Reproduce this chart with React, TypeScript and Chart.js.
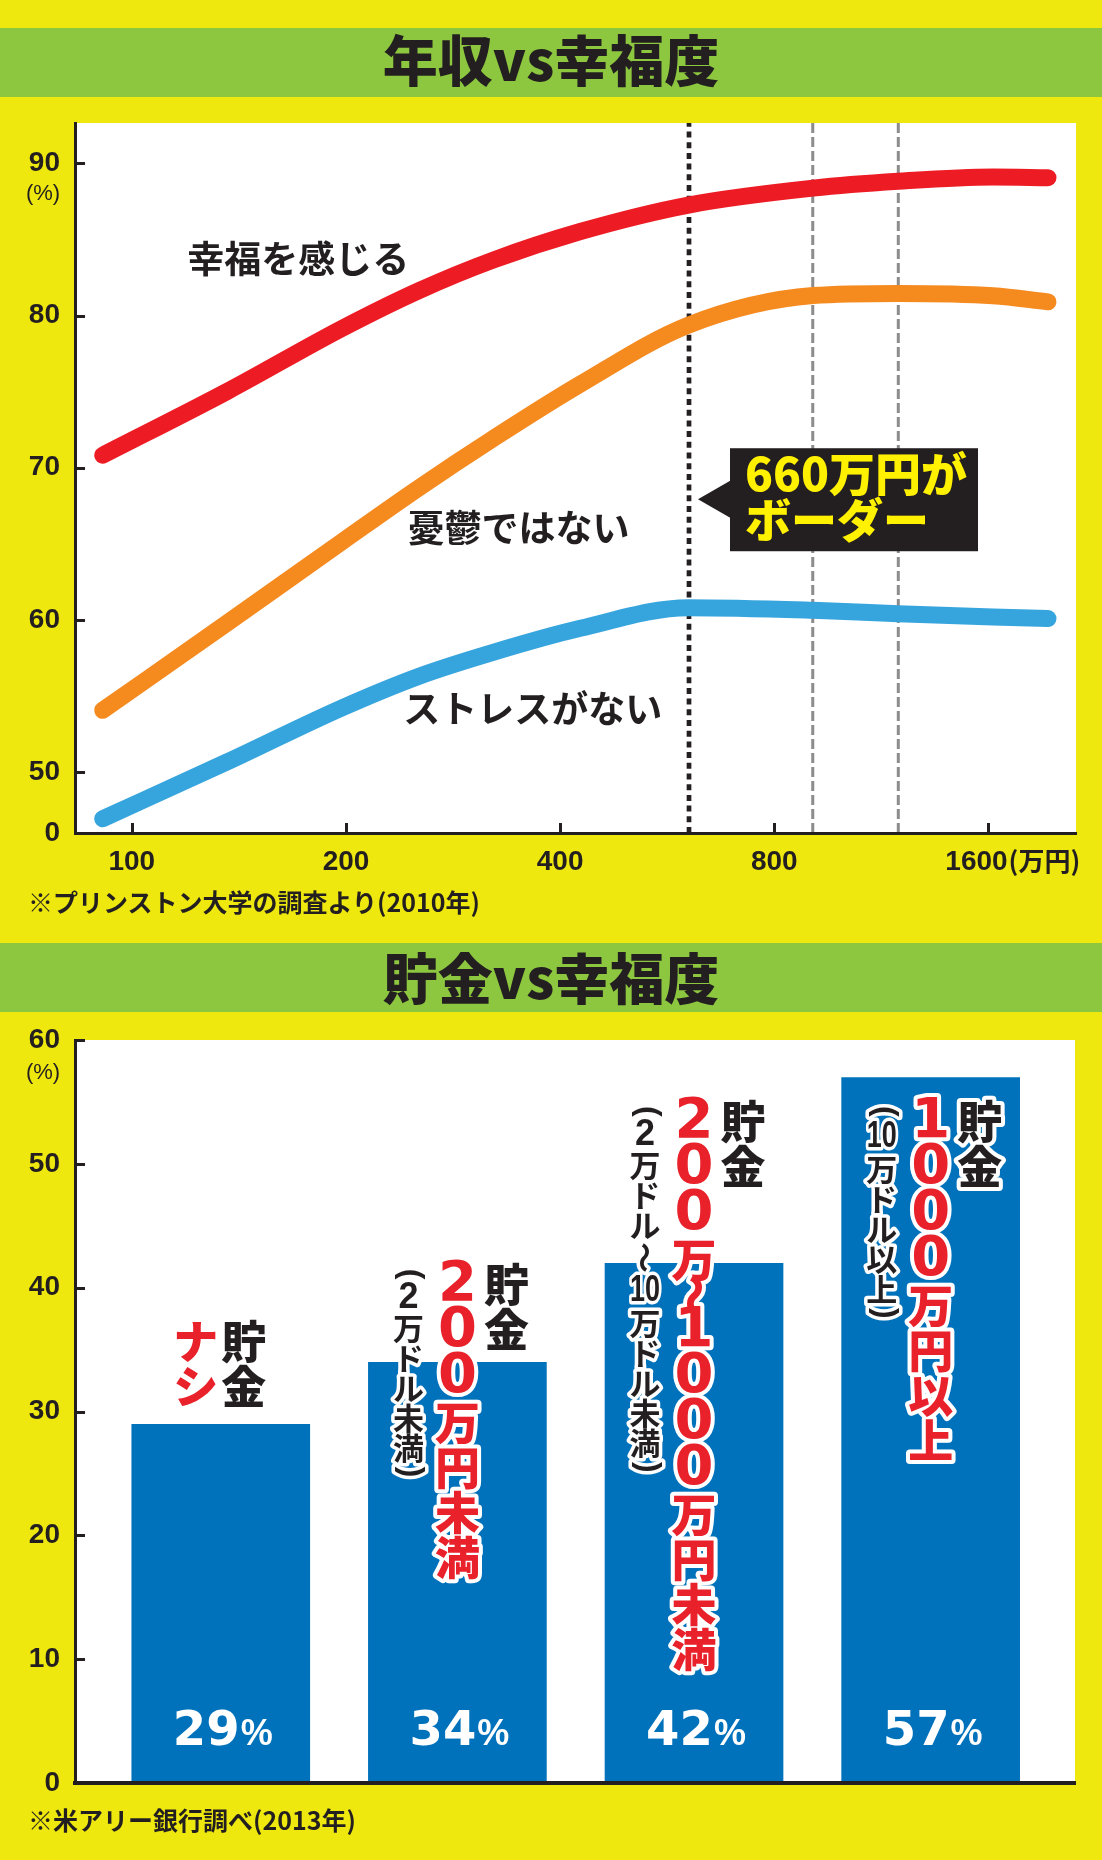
import React, { useEffect, useRef } from 'react';
import { Chart, registerables } from 'chart.js';

Chart.register(...registerables);

// ---------- colours & fonts ----------
const BG_YELLOW = '#EEE80F';
const BAND_GREEN = '#8DC63F';
const INK = '#231F20';
const RED = '#ED1C24';
const ORANGE = '#F58A1F';
const BLUE = '#37A5DD';
const BAR_BLUE = '#0071BB';
const LABEL_RED = '#E9212B';
const CALLOUT_YELLOW = '#FFF100';
const CJK = "'Noto Sans CJK JP', 'Noto Sans CJK SC', sans-serif";
const LATIN = "'Liberation Sans', Arial, sans-serif";
const WIDE = "'DejaVu Sans', 'Liberation Sans', sans-serif";

// ---------- chart 1 : income vs happiness ----------
const title1 = '年収vs幸福度';
const note1 = '※プリンストン大学の調査より(2010年)';
const incomeTicks = [100, 200, 400, 800, 1600];
const incomeTickLabels = ['100', '200', '400', '800', '1600'];
const incomeUnit = '(万円)';
const incomes = [91, 136, 198, 254, 322, 427, 606, 907, 1195, 1624, 1940];
const feelHappy = [70.82, 75.0, 79.18, 81.66, 83.64, 85.52, 87.26, 88.37, 88.82, 89.1, 89.06];
const notDepressed = [54.06, 59.78, 65.18, 68.72, 71.91, 75.49, 79.37, 81.31, 81.45, 81.3, 80.9];
const noStress = [46.94, 50.66, 54.25, 56.32, 57.87, 59.45, 60.8, 60.63, 60.41, 60.2, 60.09];
const seriesNames = ['幸福を感じる', '憂鬱ではない', 'ストレスがない'];
const pctTicks1 = [46, 50, 60, 70, 80, 90];
const pctTickLabels1 = ['0', '50', '60', '70', '80', '90'];
const borderIncome = 607;
const guideIncomes = [906, 1195];
const calloutLines = ['660万円が', 'ボーダー'];
const pctUnit = '(%)';

// ---------- chart 2 : savings vs happiness ----------
const title2 = '貯金vs幸福度';
const note2 = '※米アリー銀行調べ(2013年)';
const savingsGroups = ['貯金ナシ', '貯金200万円未満', '貯金200万〜1000万円未満', '貯金1000万円以上'];
const happyShare = [29, 34, 42, 57];
const pctTicks2 = [0, 10, 20, 30, 40, 50, 60];
const groupPrefix = '貯金';
const groupMain = ['ナシ', '200万円未満', '200万〜1000万円未満', '1000万円以上'];
const groupSub = ['', '(2万ドル未満)', '(2万ドル〜10万ドル未満)', '(10万ドル以上)'];

// ---------- vertical text helper ----------
type VTok = { t: string; kind: 'up' | 'digit' | 'tcy' | 'rot' | 'paren' };

function tokenize(s: string, combineDigits: boolean): VTok[] {
  const out: VTok[] = [];
  let i = 0;
  while (i < s.length) {
    const ch = s[i];
    if (/[0-9]/.test(ch)) {
      if (combineDigits) {
        let j = i;
        while (j < s.length && /[0-9]/.test(s[j])) j++;
        out.push({ t: s.slice(i, j), kind: 'tcy' });
        i = j;
      } else {
        out.push({ t: ch, kind: 'digit' });
        i++;
      }
    } else if (ch === '(' || ch === ')') {
      out.push({ t: ch, kind: 'paren' });
      i++;
    } else if (ch === '〜' || ch === '～' || ch === '~') {
      out.push({ t: '〜', kind: 'rot' });
      i++;
    } else {
      out.push({ t: ch, kind: 'up' });
      i++;
    }
  }
  return out;
}

interface VStyle {
  color: string;
  cjkFont: string; cjk: number;
  digitFont: string; digit: number;
  tcyFont: string; tcy1: number; tcy2: number; tcyMaxW: number;
  waveFont: string; wave: number;
  parenFont: string; paren: number; parenSize: number;
}

function drawVertical(ctx: CanvasRenderingContext2D, s: string, cx: number, top: number, st: VStyle, combine: boolean, outline: number) {
  const toks = tokenize(s, combine);
  const items: { tok: VTok; cy: number }[] = [];
  let y = top;
  for (const tok of toks) {
    const h = tok.kind === 'up' ? st.cjk
      : tok.kind === 'digit' ? st.digit
      : tok.kind === 'tcy' ? (tok.t.length > 1 ? st.tcy2 : st.tcy1)
      : tok.kind === 'rot' ? st.wave : st.paren;
    items.push({ tok, cy: y + h / 2 });
    y += h;
  }
  ctx.save();
  ctx.textAlign = 'center';
  ctx.textBaseline = 'middle';
  ctx.lineJoin = 'round';
  for (const pass of [0, 1]) {
    for (const { tok, cy } of items) {
      ctx.save();
      ctx.translate(cx, cy);
      let font = st.cjkFont;
      let dy = 0;
      if (tok.kind === 'digit') font = st.digitFont;
      else if (tok.kind === 'tcy') font = st.tcyFont;
      else if (tok.kind === 'paren') { font = st.parenFont; dy = -0.09 * st.parenSize; }
      else if (tok.kind === 'rot') font = st.waveFont;
      ctx.font = font;
      if (tok.kind === 'rot' || tok.kind === 'paren') ctx.rotate(Math.PI / 2);
      if (tok.kind === 'tcy') {
        const w = ctx.measureText(tok.t).width;
        if (w > st.tcyMaxW) ctx.scale(st.tcyMaxW / w, 1);
      }
      if (pass === 0) {
        ctx.strokeStyle = '#ffffff';
        ctx.lineWidth = outline;
        ctx.strokeText(tok.t, 0, dy);
      } else {
        ctx.fillStyle = st.color;
        ctx.fillText(tok.t, 0, dy);
      }
      ctx.restore();
    }
  }
  ctx.restore();
}

const prefixStyle: VStyle = {
  color: INK,
  cjkFont: `900 45px ${CJK}`, cjk: 45,
  digitFont: `bold 56px ${WIDE}`, digit: 46,
  tcyFont: `bold 36px ${LATIN}`, tcy1: 30, tcy2: 34, tcyMaxW: 30,
  waveFont: `900 45px ${CJK}`, wave: 26,
  parenFont: `bold 32px ${LATIN}`, paren: 18, parenSize: 32,
};
const mainStyle: VStyle = { ...prefixStyle, color: LABEL_RED };
const subStyle: VStyle = {
  color: INK,
  cjkFont: `700 31px ${CJK}`, cjk: 30,
  digitFont: `bold 36px ${LATIN}`, digit: 30,
  tcyFont: `bold 36px ${LATIN}`, tcy1: 30, tcy2: 34, tcyMaxW: 30,
  waveFont: `700 31px ${CJK}`, wave: 34,
  parenFont: `bold 32px ${LATIN}`, paren: 18, parenSize: 32,
};

// ---------- chart 1 ----------
const Y1_MIN = 46;
const Y1_MAX = 92.65;
const X1_MIN = 83.2;
const X1_MAX = 2124;

function IncomeChart() {
  const ref = useRef<HTMLCanvasElement | null>(null);
  useEffect(() => {
    const canvas = ref.current;
    if (!canvas) return;

    const seriesLabelIncome = [119.6, 244, 240.8];
    const seriesLabelPct = [83.6, 65.9, 54.0];
    const calloutPct = 67.93;

    const deco = {
      id: 'incomeDeco',
      beforeDraw(chart: any) {
        const { ctx, chartArea: a } = chart;
        ctx.save();
        ctx.fillStyle = '#ffffff';
        ctx.fillRect(a.left, a.top, a.right - a.left, a.bottom - a.top);
        ctx.restore();
      },
      afterDraw(chart: any) {
        const { ctx, chartArea: a } = chart;
        const xs = chart.scales.x;
        const ys = chart.scales.y;
        ctx.save();
        // inward tick marks
        ctx.strokeStyle = INK;
        ctx.lineWidth = 3;
        ctx.beginPath();
        pctTicks1.forEach((v) => {
          if (v === Y1_MIN) return;
          const py = Math.round(ys.getPixelForValue(v)) + 0.5;
          ctx.moveTo(a.left, py);
          ctx.lineTo(a.left + 10, py);
        });
        incomeTicks.forEach((v) => {
          const px = Math.round(xs.getPixelForValue(v)) + 0.5;
          ctx.moveTo(px, a.bottom);
          ctx.lineTo(px, a.bottom - 10);
        });
        ctx.stroke();

        // x tick labels
        ctx.fillStyle = INK;
        ctx.textBaseline = 'middle';
        const ly = a.bottom + 29;
        incomeTicks.forEach((v, i) => {
          const px = xs.getPixelForValue(v);
          ctx.font = `bold 28px ${LATIN}`;
          if (i === incomeTicks.length - 1) {
            const w = ctx.measureText(incomeTickLabels[i]).width;
            const x0 = px - 12 - w / 2;
            ctx.textAlign = 'left';
            ctx.fillText(incomeTickLabels[i], x0, ly);
            ctx.font = `bold 26px ${CJK}`;
            ctx.fillText(incomeUnit, x0 + w + 1, ly - 1);
          } else {
            ctx.textAlign = 'center';
            ctx.fillText(incomeTickLabels[i], px, ly);
          }
        });

        // (%) unit under 90
        ctx.font = `22px ${LATIN}`;
        ctx.textAlign = 'center';
        ctx.fillText(pctUnit, a.left - 32, ys.getPixelForValue(90) + 31);

        // series labels
        ctx.font = `700 37px ${CJK}`;
        ctx.textAlign = 'left';
        seriesNames.forEach((name, i) => {
          ctx.fillText(name, xs.getPixelForValue(seriesLabelIncome[i]), ys.getPixelForValue(seriesLabelPct[i]) - 2);
        });

        // callout
        const bx = xs.getPixelForValue(borderIncome);
        const cy = ys.getPixelForValue(calloutPct);
        const boxL = bx + 41;
        const boxR = bx + 289;
        ctx.fillStyle = INK;
        ctx.fillRect(boxL, cy - 51, boxR - boxL, 103);
        ctx.beginPath();
        ctx.moveTo(boxL + 1, cy - 19);
        ctx.lineTo(bx + 9, cy);
        ctx.lineTo(boxL + 1, cy + 19);
        ctx.closePath();
        ctx.fill();
        ctx.fillStyle = CALLOUT_YELLOW;
        ctx.font = `900 46px ${CJK}`;
        ctx.textAlign = 'left';
        ctx.fillText(calloutLines[0], boxL + 15, cy - 26);
        ctx.fillText(calloutLines[1], boxL + 15, cy + 20);
        ctx.restore();
      },
    };

    const curve = (label: string, values: number[], color: string) => ({
      label,
      data: incomes.map((x, i) => ({ x, y: values[i] })),
      borderColor: color,
      backgroundColor: color,
      borderWidth: 17,
      borderCapStyle: 'round' as const,
      borderJoinStyle: 'round' as const,
      cubicInterpolationMode: 'monotone' as const,
      pointRadius: 0,
      fill: false,
      order: 1,
    });
    const guide = (x: number, color: string, width: number, dash: number[]) => ({
      label: 'guide',
      data: [{ x, y: Y1_MIN }, { x, y: Y1_MAX }],
      borderColor: color,
      borderWidth: width,
      borderDash: dash,
      borderCapStyle: 'butt' as const,
      pointRadius: 0,
      fill: false,
      order: 5,
    });

    const chart = new Chart(canvas, {
      type: 'line',
      data: {
        datasets: [
          curve(seriesNames[0], feelHappy, RED),
          curve(seriesNames[1], notDepressed, ORANGE),
          curve(seriesNames[2], noStress, BLUE),
          guide(borderIncome, INK, 4.7, [6, 4.7]),
          ...guideIncomes.map((g) => guide(g, '#8C8C8C', 3, [10, 4])),
        ] as any,
      },
      options: {
        responsive: false,
        animation: false,
        devicePixelRatio: 1,
        events: [],
        layout: { padding: { top: 35, right: 26, left: 0, bottom: 0 } },
        plugins: { legend: { display: false }, tooltip: { enabled: false } },
        scales: {
          x: {
            type: 'logarithmic',
            min: X1_MIN,
            max: X1_MAX,
            afterBuildTicks: (s: any) => { s.ticks = incomeTicks.map((v) => ({ value: v })); },
            afterFit: (s: any) => { s.height = 97; },
            grid: { display: false, drawTicks: false },
            border: { display: true, color: INK, width: 3, z: 1 },
            ticks: { display: false },
          },
          y: {
            type: 'linear',
            min: Y1_MIN,
            max: Y1_MAX,
            afterBuildTicks: (s: any) => { s.ticks = pctTicks1.map((v) => ({ value: v })); },
            afterFit: (s: any) => { s.width = 75; },
            grid: { display: false, drawTicks: false },
            border: { display: true, color: INK, width: 3, z: 1 },
            ticks: {
              padding: 15,
              color: INK,
              font: { family: LATIN, size: 28, weight: 'bold' },
              callback: (v: any) => {
                const i = pctTicks1.indexOf(Number(v));
                return i >= 0 ? pctTickLabels1[i] : '';
              },
            },
          },
        },
      } as any,
      plugins: [deco],
    });
    return () => chart.destroy();
  }, []);
  return (
    <canvas
      ref={ref}
      width={1102}
      height={842}
      style={{ position: 'absolute', left: 0, top: 88, width: 1102, height: 842 }}
    />
  );
}

// ---------- chart 2 ----------
function SavingsChart() {
  const ref = useRef<HTMLCanvasElement | null>(null);
  useEffect(() => {
    const canvas = ref.current;
    if (!canvas) return;

    const labelTopPct = [37.45, 42.06, 55.2, 55.2];
    const pctLabelBase = 3.1;

    const deco = {
      id: 'savingsDeco',
      beforeDraw(chart: any) {
        const { ctx, chartArea: a } = chart;
        ctx.save();
        ctx.fillStyle = '#ffffff';
        ctx.fillRect(a.left, a.top, a.right - a.left, a.bottom - a.top);
        ctx.restore();
      },
      afterDatasetsDraw(chart: any) {
        const { ctx } = chart;
        const ys = chart.scales.y;
        const bars = chart.getDatasetMeta(0).data;
        ctx.save();
        bars.forEach((bar: any, i: number) => {
          const cx = bar.x;
          const top = ys.getPixelForValue(labelTopPct[i]);
          if (groupSub[i]) {
            drawVertical(ctx, groupPrefix, cx + 49, top, prefixStyle, false, 8);
            drawVertical(ctx, groupMain[i], cx, top, mainStyle, false, 8);
            drawVertical(ctx, groupSub[i], cx - 49, top + 3, subStyle, true, 7);
          } else {
            drawVertical(ctx, groupPrefix, cx + 23, top, prefixStyle, false, 8);
            drawVertical(ctx, groupMain[i], cx - 25, top, mainStyle, false, 8);
          }
          // value label
          const base = ys.getPixelForValue(pctLabelBase);
          const num = String(happyShare[i]);
          const numFont = `bold 48px ${WIDE}`;
          const pctFont = `bold 36px ${LATIN}`;
          ctx.font = numFont;
          const w1 = ctx.measureText(num).width;
          ctx.font = pctFont;
          const w2 = ctx.measureText('%').width;
          const x0 = cx + 2 - (w1 + w2 + 1) / 2;
          ctx.fillStyle = '#ffffff';
          ctx.textAlign = 'left';
          ctx.textBaseline = 'alphabetic';
          ctx.font = numFont;
          ctx.fillText(num, x0, base);
          ctx.font = pctFont;
          ctx.fillText('%', x0 + w1 + 1, base);
        });
        ctx.restore();
      },
      afterDraw(chart: any) {
        const { ctx, chartArea: a } = chart;
        const ys = chart.scales.y;
        ctx.save();
        ctx.strokeStyle = INK;
        ctx.lineWidth = 3;
        ctx.beginPath();
        pctTicks2.forEach((v) => {
          if (v === 0) return;
          const py = Math.round(ys.getPixelForValue(v)) + 0.5;
          ctx.moveTo(a.left, py);
          ctx.lineTo(a.left + 10, py);
        });
        ctx.stroke();
        ctx.fillStyle = INK;
        ctx.font = `22px ${LATIN}`;
        ctx.textAlign = 'center';
        ctx.textBaseline = 'middle';
        ctx.fillText(pctUnit, a.left - 32, ys.getPixelForValue(60) + 33);
        ctx.restore();
      },
    };

    const chart = new Chart(canvas, {
      type: 'bar',
      data: {
        labels: savingsGroups,
        datasets: [
          {
            label: '幸福度',
            data: happyShare.map((v, i) => ({ x: i, y: v })),
            backgroundColor: BAR_BLUE,
            borderWidth: 0,
            barPercentage: 0.755,
            categoryPercentage: 1,
          },
        ] as any,
      },
      options: {
        responsive: false,
        animation: false,
        devicePixelRatio: 1,
        events: [],
        layout: { padding: { top: 40, right: 27, left: 0, bottom: 0 } },
        plugins: { legend: { display: false }, tooltip: { enabled: false } },
        scales: {
          x: {
            type: 'linear',
            min: -0.616,
            max: 3.61,
            offset: false,
            afterBuildTicks: (s: any) => { s.ticks = savingsGroups.map((_, i) => ({ value: i })); },
            afterFit: (s: any) => { s.height = 35; },
            grid: { display: false, drawTicks: false },
            border: { display: true, color: INK, width: 4, z: 1 },
            ticks: { display: false },
          },
          y: {
            type: 'linear',
            min: 0,
            max: 60,
            afterBuildTicks: (s: any) => { s.ticks = pctTicks2.map((v) => ({ value: v })); },
            afterFit: (s: any) => { s.width = 75; },
            grid: { display: false, drawTicks: false },
            border: { display: true, color: INK, width: 3, z: 1 },
            ticks: {
              padding: 15,
              color: INK,
              font: { family: LATIN, size: 28, weight: 'bold' },
              callback: (v: any) => String(v),
            },
          },
        },
      } as any,
      plugins: [deco],
    });
    return () => chart.destroy();
  }, []);
  return (
    <canvas
      ref={ref}
      width={1102}
      height={818}
      style={{ position: 'absolute', left: 0, top: 1000, width: 1102, height: 818 }}
    />
  );
}

const bandStyle = (top: number): React.CSSProperties => ({
  position: 'absolute', left: 0, top, width: 1102, height: 69, background: BAND_GREEN,
});
const titleStyle = (top: number): React.CSSProperties => ({
  position: 'absolute', left: 0, top, width: 1102, height: 69, lineHeight: '69px',
  textAlign: 'center', fontFamily: CJK, fontWeight: 900, fontSize: 55, color: INK, whiteSpace: 'nowrap',
});
const noteStyle = (top: number): React.CSSProperties => ({
  position: 'absolute', left: 28, top, lineHeight: '30px', fontFamily: CJK, fontWeight: 700,
  fontSize: 25, color: INK, whiteSpace: 'nowrap',
});

export default function App() {
  return (
    <div style={{ position: 'relative', width: 1102, height: 1860, background: BG_YELLOW, overflow: 'hidden' }}>
      <style>{'html,body{margin:0;padding:0;}'}</style>
      <div style={bandStyle(28)} />
      <div style={titleStyle(22.5)}>{title1}</div>
      <IncomeChart />
      <div style={noteStyle(885.6)}>{note1}</div>
      <div style={bandStyle(943)} />
      <div style={titleStyle(941)}>{title2}</div>
      <SavingsChart />
      <div style={noteStyle(1803.6)}>{note2}</div>
    </div>
  );
}
